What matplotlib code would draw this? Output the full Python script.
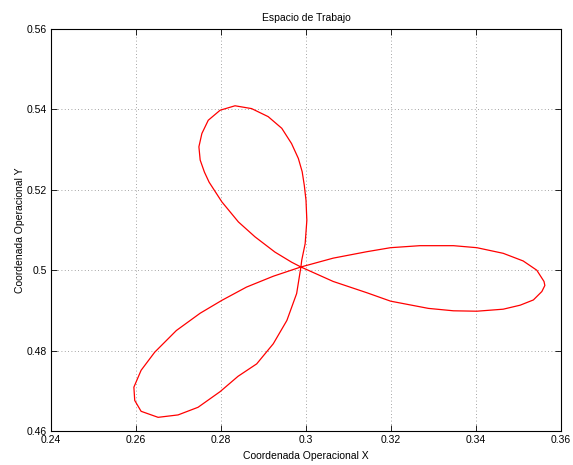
import matplotlib
matplotlib.use("Agg")
import matplotlib.pyplot as plt

plt.rcParams['font.family'] = ['Liberation Sans', 'DejaVu Sans']

# Curve points (one closed loop through the centre)
x_pts = [0.2988, 0.3064, 0.3143, 0.3199, 0.3268, 0.3347, 0.3402, 0.3464, 0.3511, 0.3543,
         0.3560, 0.3562, 0.3555, 0.3535, 0.3504, 0.3464, 0.3402, 0.3347, 0.3288, 0.3199,
         0.3143, 0.3064, 0.2988,
         0.2966, 0.2927, 0.2880, 0.2841, 0.2802, 0.2772, 0.2761, 0.2751, 0.2748, 0.2755,
         0.2770, 0.2798, 0.2833, 0.2872, 0.2911, 0.2943, 0.2966, 0.2982, 0.2991, 0.2996,
         0.3000, 0.3002, 0.2998, 0.2990, 0.2988,
         0.2978, 0.2955, 0.2923, 0.2884, 0.2840, 0.2798, 0.2746, 0.2699, 0.2652, 0.2612,
         0.2597, 0.2595, 0.2612, 0.2644, 0.2695, 0.2751, 0.2802, 0.2860, 0.2923, 0.2988]
y_pts = [0.5008, 0.5030, 0.5046, 0.5056, 0.5061, 0.5061, 0.5056, 0.5042, 0.5023, 0.5000,
         0.4972, 0.4962, 0.4947, 0.4926, 0.4913, 0.4903, 0.4898, 0.4899, 0.4905, 0.4923,
         0.4944, 0.4972, 0.5008,
         0.5020, 0.5045, 0.5083, 0.5120, 0.5170, 0.5219, 0.5244, 0.5274, 0.5307, 0.5340,
         0.5373, 0.5398, 0.5409, 0.5402, 0.5382, 0.5353, 0.5315, 0.5278, 0.5245, 0.5211,
         0.5174, 0.5124, 0.5066, 0.5025, 0.5008,
         0.4942, 0.4875, 0.4817, 0.4767, 0.4736, 0.4698, 0.4659, 0.4640, 0.4634, 0.4649,
         0.4676, 0.4709, 0.4751, 0.4796, 0.4850, 0.4893, 0.4925, 0.4958, 0.4985, 0.5008]

x_ticks = [0.24, 0.26, 0.28, 0.30, 0.32, 0.34, 0.36]
x_labels = ['0.24', '0.26', '0.28', '0.3', '0.32', '0.34', '0.36']
y_ticks = [0.46, 0.48, 0.50, 0.52, 0.54, 0.56]
y_labels = ['0.46', '0.48', '0.5', '0.52', '0.54', '0.56']

fig = plt.figure(figsize=(5.73, 4.65), dpi=100)
ax = fig.add_axes([51/573, 1 - 431/465, 510/573, 402/465])
ax.plot(x_pts, y_pts, color='red', lw=0.9, solid_joinstyle='round')
ax.set_xlim(0.24, 0.36)
ax.set_ylim(0.46, 0.56)
ax.set_xticks(x_ticks)
ax.set_xticklabels(x_labels)
ax.set_yticks(y_ticks)
ax.set_yticklabels(y_labels)
ax.tick_params(direction='in', length=4, width=0.6, top=True, right=True, labelsize=7.5, pad=3)
ax.grid(True, linestyle=(0, (1, 3)), color='#888888', lw=0.6)
for s in ax.spines.values():
    s.set_linewidth(0.8)
ax.set_title('Espacio de Trabajo', fontsize=7.5, pad=6)
ax.set_xlabel('Coordenada Operacional X', fontsize=7.5, labelpad=4)
ax.set_ylabel('Coordenada Operacional Y', fontsize=7.5, labelpad=1)
fig.savefig('out.png', dpi=100)
